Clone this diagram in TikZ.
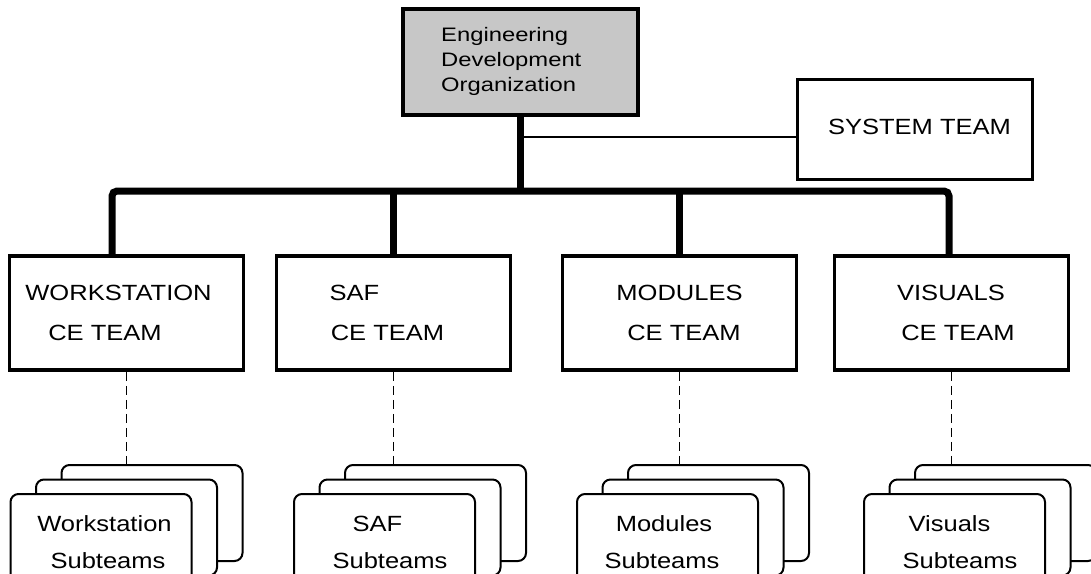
\documentclass[tikz,border=0pt]{standalone}
\usepackage{fontspec}
\setmainfont{Liberation Sans}
\newfontfamily\labfont[FakeStretch=1.16]{Liberation Sans}
\newfontfamily\edofont[FakeStretch=1.22]{Liberation Sans}
\usetikzlibrary{calc}
\begin{document}
\begin{tikzpicture}[x=1pt,y=-1pt,
  topbox/.style={draw, line width=3.5pt, fill=black!22, minimum width=235pt, minimum height=106pt, inner sep=0pt},
  sysbox/.style={draw, line width=3pt, minimum width=235pt, minimum height=100pt, inner sep=0pt},
  cebox/.style={draw, line width=3.5pt, minimum width=234pt, minimum height=114pt, inner sep=0pt},
  subbox/.style={draw, line width=2pt, fill=white, rounded corners=8pt, minimum width=181pt, minimum height=96pt, inner sep=0pt},
  lab/.style={font=\labfont\fontsize{22}{26}\selectfont, inner sep=0pt, anchor=base},
  edotext/.style={font=\edofont\fontsize{19.5}{24}\selectfont, inner sep=0pt, anchor=base west},
  busline/.style={line width=7pt, rounded corners=5pt},
  thinline/.style={line width=2.2pt},
  dashline/.style={line width=0.8pt, dash pattern=on 9pt off 5pt}]
\useasboundingbox (0,0) rectangle (1091,573);

% top organisation box
\node[topbox] (edo) at (520.5,62) {};
\node[edotext] (edo1) at (441,41) {Engineering};
\node[edotext] (edo2) at (441,66) {Development};
\node[edotext] (edo3) at (441,91) {Organization};

% system team
\node[sysbox] (sys) at (914.5,129) {};
\node[lab] (syst) at (919.5,134) {SYSTEM TEAM};

% CE team boxes
\node[cebox] (wsce) at (126.5,313) {};
\node[cebox] (safce) at (393.5,313) {};
\node[cebox] (modce) at (679.5,313) {};
\node[cebox] (visce) at (951.5,313) {};

\node[lab] (ws1) at (118.5,300) {WORKSTATION};
\node[lab] (ws2) at (105,340) {CE TEAM};
\node[lab] (saf1) at (354.5,300) {SAF};
\node[lab] (saf2) at (387.5,340) {CE TEAM};
\node[lab] (mod1) at (679.5,300) {MODULES};
\node[lab] (mod2) at (684,340) {CE TEAM};
\node[lab] (vis1) at (951,300) {VISUALS};
\node[lab] (vis2) at (958,340) {CE TEAM};

% bus
\coordinate (busL) at (112,191);
\coordinate (busR) at (949,191);
\draw[busline] (wsce.north -| busL) -- (busL) -- (busR) -- (visce.north -| busR);
\draw[busline] (safce.north) -- (safce.north |- busL);
\draw[busline] (modce.north) -- (modce.north |- busL);
\draw[busline] (edo.south) -- (edo.south |- busL);
\coordinate (sysin) at ([yshift=-8pt]sys.west);
\draw[thinline] (sysin -| edo.south) -- (sysin);

% subteam stacks
\foreach \n/\fx in {ws/101, saf/384.5, mod/667.5, vis/954.5}{
  \node[subbox] (\n b) at (\fx+51,513) {};
  \node[subbox] (\n m) at (\fx+25.5,527.5) {};
  \node[subbox] (\n f) at (\fx,542) {};
}

\node[lab] (wst1) at (104.5,531) {Workstation};
\node[lab] (wst2) at (108,568) {Subteams};
\node[lab] (saft1) at (377.5,531) {SAF};
\node[lab] (saft2) at (390,568) {Subteams};
\node[lab] (modt1) at (664,531) {Modules};
\node[lab] (modt2) at (662,568) {Subteams};
\node[lab] (vist1) at (949.5,531) {Visuals};
\node[lab] (vist2) at (960,568) {Subteams};

% dashed links
\draw[dashline] (wsce.south) -- (wsce.south |- wsb.north);
\draw[dashline] (safce.south) -- (safce.south |- safb.north);
\draw[dashline] (modce.south) -- (modce.south |- modb.north);
\draw[dashline] (visce.south) -- (visce.south |- visb.north);
\end{tikzpicture}
\end{document}
